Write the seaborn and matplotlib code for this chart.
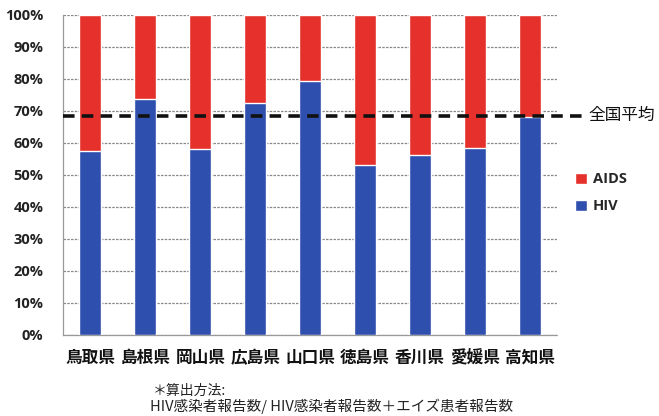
import numpy as np
import pandas as pd
import matplotlib
matplotlib.use("Agg")
import matplotlib.pyplot as plt
import seaborn as sns

prefectures = ["鳥取県", "島根県", "岡山県", "広島県", "山口県", "徳島県", "香川県", "愛媛県", "高知県"]
hiv_pct = [57.6, 73.6, 58.1, 72.4, 79.5, 53.1, 56.3, 58.3, 68.2]
total_pct = [100, 100, 100, 100, 100, 100, 100, 100, 100]
national_avg = 68.5
yticks = [0, 10, 20, 30, 40, 50, 60, 70, 80, 90, 100]

sns.set_style("white")
plt.rcParams['font.family'] = ['Noto Sans CJK JP', 'DejaVu Sans']

red = "#E5302B"
blue = "#2F4FAE"

df = pd.DataFrame({"pref": prefectures, "hiv": hiv_pct, "total": total_pct})

fig = plt.figure(figsize=(6.59, 4.16), dpi=100)
ax = fig.add_axes([63/659, 1-335/416, 494/659, 320/416])

sns.barplot(data=df, x="pref", y="total", color=red, width=0.4, ax=ax,
            saturation=1, label="AIDS", zorder=3)
sns.barplot(data=df, x="pref", y="hiv", color=blue, width=0.4, ax=ax,
            saturation=1, label="HIV", zorder=3)

ax.set_ylim(0, 100)
ax.set_xlim(-0.5, len(prefectures) - 0.5)
ax.set_yticks(yticks)
ax.set_yticklabels([f"{v}%" for v in yticks], fontsize=10.5, fontweight="bold",
                   family=["Open Sans", "DejaVu Sans"], color="#222222")
ax.set_xticks(range(len(prefectures)))
ax.set_xticklabels(prefectures, fontsize=12, fontweight="bold", color="#111111")
ax.tick_params(axis="x", length=0, pad=10)
ax.set_xticks(np.arange(-0.5, len(prefectures), 1), minor=True)
ax.tick_params(axis="x", which="minor", length=4, color="#999999", direction="out")
ax.tick_params(axis="y", length=4, color="#999999", direction="out", pad=10)
ax.set_xlabel("")
ax.set_ylabel("")

for y in yticks:
    ax.axhline(y, color="#888888", lw=0.9, ls=(0, (2, 1)), zorder=1)
for s in ["top", "right"]:
    ax.spines[s].set_visible(False)
for s in ["left", "bottom"]:
    ax.spines[s].set_color("#999999")
    ax.spines[s].set_linewidth(0.9)
    ax.spines[s].set_linestyle((0, (2, 1)))

ax.axhline(national_avg, xmin=0, xmax=1.05, color="#111111", lw=2.6,
           ls=(0, (3.2, 2)), clip_on=False, zorder=5)
ax.text(1.063, national_avg, "全国平均", transform=ax.get_yaxis_transform(),
        va="center", ha="left", fontsize=12, color="#111111")

handles, labels = ax.get_legend_handles_labels()
leg = ax.legend(handles, labels, loc="center left", bbox_to_anchor=(1.01, 0.444),
                frameon=False, handlelength=0.8, handleheight=0.8,
                handletextpad=0.4, labelspacing=0.9,
                prop={"family": ["Open Sans"], "weight": "bold", "size": 10.5})

fig.text(153/659, 1-391/416, "＊算出方法:", fontsize=10, va="center", ha="left", color="#222222")
fig.text(150/659, 1-406/416, "HIV感染者報告数/ HIV感染者報告数＋エイズ患者報告数",
         fontsize=10.5, va="center", ha="left", color="#222222")

fig.savefig("out.png", dpi=100)
